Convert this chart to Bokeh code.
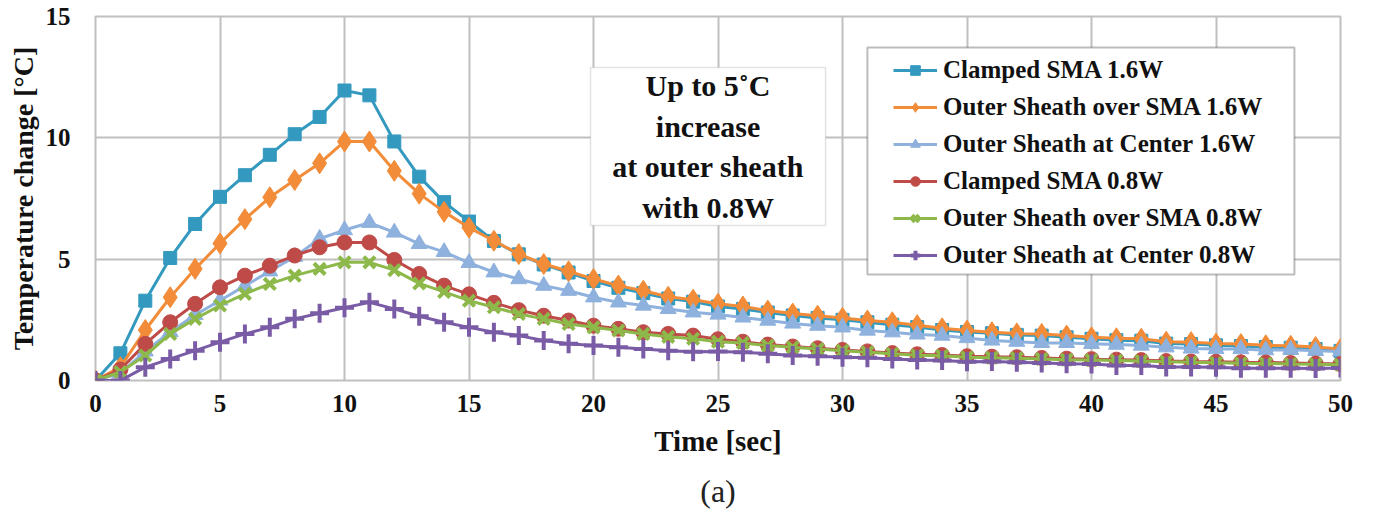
from bokeh.plotting import figure
from bokeh.models import Legend, LegendItem, BoxAnnotation, Label, FixedTicker, Range1d, Title
from bokeh.embed import file_html
from bokeh.resources import INLINE

# ---------------- data ----------------
time_sec = list(range(51))

clamped_sma_16 = [0, 1.12, 3.29, 5.05, 6.45, 7.57, 8.46, 9.3, 10.15, 10.86, 11.95, 11.75, 9.85, 8.4, 7.35,
                  6.55, 5.75, 5.2, 4.78, 4.45, 4.1, 3.82, 3.6, 3.38, 3.25, 3.05, 2.95, 2.8, 2.68, 2.58,
                  2.5, 2.4, 2.3, 2.2, 2.08, 2.0, 1.95, 1.88, 1.85, 1.78, 1.72, 1.66, 1.64, 1.52, 1.5,
                  1.45, 1.42, 1.38, 1.35, 1.3, 1.22]
outer_over_sma_16 = [0, 0.55, 2.08, 3.43, 4.6, 5.65, 6.65, 7.55, 8.26, 8.95, 9.85, 9.85, 8.64, 7.7, 6.95,
                     6.3, 5.76, 5.21, 4.8, 4.5, 4.18, 3.91, 3.7, 3.45, 3.33, 3.16, 3.05, 2.88, 2.76, 2.67,
                     2.58, 2.47, 2.4, 2.28, 2.15, 2.06, 1.99, 1.94, 1.92, 1.85, 1.78, 1.74, 1.72, 1.6, 1.58,
                     1.52, 1.5, 1.45, 1.43, 1.38, 1.3]
outer_center_16 = [0, 0.3, 1.2, 2.0, 2.7, 3.3, 3.9, 4.5, 5.1, 5.84, 6.2, 6.5, 6.1, 5.63, 5.3,
                   4.85, 4.46, 4.18, 3.91, 3.7, 3.43, 3.22, 3.09, 2.95, 2.81, 2.72, 2.6, 2.47, 2.35, 2.26,
                   2.19, 2.06, 1.99, 1.9, 1.85, 1.75, 1.65, 1.6, 1.55, 1.55, 1.51, 1.48, 1.44, 1.37, 1.32,
                   1.3, 1.3, 1.25, 1.27, 1.23, 1.2]
clamped_sma_08 = [0, 0.45, 1.51, 2.4, 3.16, 3.84, 4.32, 4.73, 5.15, 5.49, 5.69, 5.69, 4.97, 4.39, 3.91,
                  3.55, 3.2, 2.9, 2.67, 2.47, 2.26, 2.13, 1.99, 1.92, 1.85, 1.7, 1.6, 1.48, 1.4, 1.33,
                  1.26, 1.2, 1.13, 1.08, 1.05, 1.0, 0.98, 0.96, 0.93, 0.9, 0.88, 0.86, 0.84, 0.8, 0.78,
                  0.77, 0.75, 0.74, 0.72, 0.7, 0.68]
outer_over_sma_08 = [0, 0.35, 1.03, 1.92, 2.54, 3.09, 3.57, 3.98, 4.32, 4.6, 4.87, 4.87, 4.55, 4.0, 3.65,
                     3.29, 3.02, 2.74, 2.54, 2.33, 2.19, 2.06, 1.92, 1.8, 1.72, 1.6, 1.55, 1.44, 1.37, 1.3,
                     1.23, 1.16, 1.1, 1.04, 1.02, 0.96, 0.94, 0.92, 0.89, 0.86, 0.84, 0.82, 0.8, 0.77, 0.75,
                     0.73, 0.71, 0.7, 0.68, 0.67, 0.65]
outer_center_08 = [0, 0.0, 0.55, 0.89, 1.23, 1.58, 1.92, 2.19, 2.54, 2.77, 3.0, 3.22, 2.95, 2.65, 2.4,
                   2.19, 1.99, 1.85, 1.65, 1.51, 1.44, 1.37, 1.3, 1.23, 1.18, 1.2, 1.16, 1.1, 1.03, 1.0,
                   0.96, 0.94, 0.89, 0.84, 0.82, 0.77, 0.78, 0.75, 0.72, 0.69, 0.68, 0.62, 0.62, 0.56, 0.56,
                   0.55, 0.5, 0.5, 0.5, 0.49, 0.52]

series_names = ["Clamped SMA 1.6W", "Outer Sheath over SMA 1.6W", "Outer Sheath at Center 1.6W",
                "Clamped SMA 0.8W", "Outer Sheath over SMA 0.8W", "Outer Sheath at Center 0.8W"]
series_values = [clamped_sma_16, outer_over_sma_16, outer_center_16,
                 clamped_sma_08, outer_over_sma_08, outer_center_08]

x_ticks = [0, 5, 10, 15, 20, 25, 30, 35, 40, 45, 50]
y_ticks = [0, 5, 10, 15]

# ---------------- styles ----------------
colors = ["#3399BF", "#F28C38", "#8EB1DD", "#BE4B48", "#8DB84A", "#7A5BA5"]
markers = ["square", "diamond", "triangle", "circle", "x", "cross"]
sizes = [13, 21, 16, 15, 16, 19]
FONT = "Liberation Serif"

p = figure(width=1373, height=531, output_backend="svg", toolbar_location=None,
           x_range=Range1d(0, 50), y_range=Range1d(0, 15),
           min_border_left=95, min_border_right=33, min_border_top=16, min_border_bottom=151,
           background_fill_color="white", border_fill_color="white")

p.outline_line_color = "#c0c0c0"
p.outline_line_width = 2

for ax in (p.xaxis, p.yaxis):
    ax.axis_line_color = None
    ax.major_tick_line_color = None
    ax.minor_tick_line_color = None
    ax.major_tick_in = 0
    ax.major_tick_out = 0
    ax.major_label_text_font = FONT
    ax.major_label_text_font_style = "bold"
    ax.major_label_text_font_size = "25px"
    ax.major_label_text_color = "#111111"
    ax.axis_label_text_font = FONT
    ax.axis_label_text_font_style = "bold"
    ax.axis_label_text_color = "#111111"

p.xaxis.ticker = FixedTicker(ticks=x_ticks)
p.yaxis.ticker = FixedTicker(ticks=y_ticks)
p.xaxis.axis_label = "Time [sec]"
p.yaxis.axis_label = "Temperature change [°C]"
p.xaxis.axis_label_text_font_size = "29px"
p.yaxis.axis_label_text_font_size = "28px"
p.xaxis.major_label_standoff = 14
p.yaxis.major_label_standoff = 25
p.xaxis.axis_label_standoff = 10
p.yaxis.axis_label_standoff = 4

for g in (p.xgrid, p.ygrid):
    g.grid_line_color = "#c0c0c0"
    g.grid_line_width = 2

items = []
for name, vals, c, m, s in zip(series_names, series_values, colors, markers, sizes):
    rl = p.line(time_sec, vals, line_color=c, line_width=3)
    lw = 4 if m in ("x", "cross") else 1
    rs = p.scatter(time_sec, vals, marker=m, size=s, fill_color=c, line_color=c, line_width=lw)
    items.append(LegendItem(label=name, renderers=[rl, rs]))

# annotation box
note_box = BoxAnnotation(left=19.88, right=29.32, top=12.9, bottom=6.39,
                         fill_color="white", fill_alpha=1.0,
                         line_color="#a0a0a0", line_width=1.5)
p.add_layout(note_box)
note = Label(x=24.6, y=9.64, text="Up to 5˚C\nincrease\nat outer sheath\nwith 0.8W",
             text_align="center", text_baseline="middle",
             text_font=FONT, text_font_style="bold", text_font_size="30px",
             text_line_height=1.23, text_color="#111111")
p.add_layout(note)

# legend frame
leg_box = BoxAnnotation(left=31.0, right=48.15, top=13.72, bottom=4.37,
                        fill_color="white", fill_alpha=1.0,
                        line_color="#222222", line_width=2)
p.add_layout(leg_box)

legend = Legend(items=items, location=(798, 111), padding=0, margin=0, spacing=9,
                glyph_width=44, glyph_height=24, label_standoff=6,
                label_text_font=FONT, label_text_font_style="bold",
                label_text_font_size="25px", label_text_color="#111111",
                border_line_color=None, background_fill_alpha=0)
p.add_layout(legend, "center")

cap = Title(text="(a)", align="center", text_font=FONT, text_font_style="normal",
            text_font_size="32px", text_color="#222222", standoff=22)
p.add_layout(cap, "below")

open("out.html", "w").write(file_html(p, INLINE))
